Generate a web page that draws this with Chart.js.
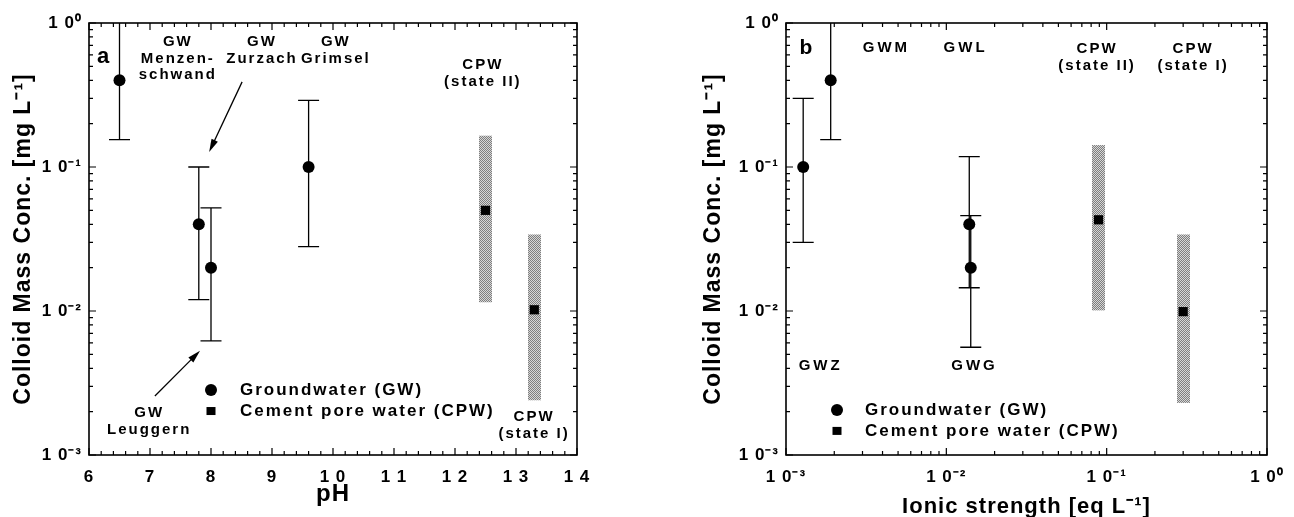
<!DOCTYPE html>
<html>
<head>
<meta charset="utf-8">
<script src="https://cdn.jsdelivr.net/npm/chart.js@4.4.1/dist/chart.umd.min.js"></script>
<style>
  html, body { margin: 0; padding: 0; background: #fff; }
  #wrap { position: relative; width: 1294px; height: 517px; }
  canvas { position: absolute; top: 0; }
</style>
</head>
<body>
<div id="wrap">
  <canvas id="phChart" width="647" height="517" style="left:0"></canvas>
  <canvas id="ionChart" width="647" height="517" style="left:647px"></canvas>
</div>
<script>
// panel a: colloid concentration vs pH
const gwPH = [6.5, 7.8, 8.0, 9.6];
const gwConcA = [0.40, 0.040, 0.020, 0.10];
const gwLowA = [0.155, 0.012, 0.0062, 0.028];
const gwHighA = [1.6, 0.10, 0.052, 0.29];
const cpwPH = [12.5, 13.3];
const cpwConcA = [0.050, 0.0102];
const cpwLowA = [0.0115, 0.0024];
const cpwHighA = [0.165, 0.034];

// panel b: colloid concentration vs ionic strength
const gwIonic = [0.00128, 0.0019, 0.0139, 0.0142];
const gwConcB = [0.10, 0.40, 0.040, 0.020];
const gwLowB = [0.030, 0.155, 0.0145, 0.0056];
const gwHighB = [0.30, 1.6, 0.118, 0.046];
const cpwIonic = [0.089, 0.30];
const cpwConcB = [0.043, 0.0099];
const cpwLowB = [0.0101, 0.0023];
const cpwHighB = [0.142, 0.034];

// labels
const legendLabels = ['Groundwater (GW)', 'Cement pore water (CPW)'];
const pHTickLabels = {6: '6', 7: '7', 8: '8', 9: '9', 10: '1 0', 11: '1 1', 12: '1 2', 13: '1 3', 14: '1 4'};
const decadeLabels = {'-3': '1 0⁻³', '-2': '1 0⁻²', '-1': '1 0⁻¹', '0': '1 0⁰'};
const yTitle = 'Colloid Mass Conc. [mg L⁻¹]';

// text placed in data coordinates of each panel
const notesA = [
  {x: 6.23, y: 0.58, lines: ['a'], size: 22, spacing: 0},
  {x: 7.44, y: 0.738, lines: ['GW', 'Menzen-', 'schwand']},
  {x: 8.82, y: 0.738, lines: ['GW', 'Zurzach']},
  {x: 10.03, y: 0.738, lines: ['GW', 'Grimsel']},
  {x: 12.44, y: 0.511, lines: ['CPW', '(state II)']},
  {x: 13.28, y: 0.00184, lines: ['CPW', '(state I)']},
  {x: 6.97, y: 0.00196, lines: ['GW', 'Leuggern']}
];
const notesB = [
  {x: 0.00133, y: 0.665, lines: ['b'], size: 21, spacing: 0},
  {x: 0.00414, y: 0.67, lines: ['GWM'], spacing: 3},
  {x: 0.0129, y: 0.67, lines: ['GWL'], spacing: 3},
  {x: 0.0859, y: 0.66, lines: ['CPW', '(state II)']},
  {x: 0.341, y: 0.66, lines: ['CPW', '(state I)']},
  {x: 0.00161, y: 0.00415, lines: ['GWZ'], spacing: 3},
  {x: 0.01467, y: 0.00415, lines: ['GWG'], spacing: 3}
];
const arrowsA = [
  [[8.51, 0.39], [7.97, 0.127]],
  [[7.08, 0.00257], [7.82, 0.0053]]
];
const legendA = {x: 8.0, textX: 8.475, rows: [0.00283, 0.00202]};
const legendB = {x: 0.00208, textX: 0.00311, rows: [0.00205, 0.00147]};

const FONT = '"Liberation Sans", Arial, Helvetica, sans-serif';

function logTickValues() {
  const out = [];
  for (let e = -3; e < 0; e++) {
    for (let m = 1; m < 10; m++) out.push(Number((m * Math.pow(10, e)).toPrecision(6)));
  }
  out.push(1);
  return out;
}
function isDecade(v) {
  const e = Math.log10(v);
  return Math.abs(e - Math.round(e)) < 1e-9;
}
function decadeLabel(v) {
  return isDecade(v) ? decadeLabels[String(Math.round(Math.log10(v)) || 0)] : '';
}

function stipple() {
  const c = document.createElement('canvas');
  c.width = 2; c.height = 2;
  const g = c.getContext('2d');
  g.fillStyle = '#d6d6d6'; g.fillRect(0, 0, 2, 2);
  g.fillStyle = '#7e7e7e'; g.fillRect(0, 0, 1, 1); g.fillRect(1, 1, 1, 1);
  return c;
}

function overlayPlugin(p) {
  return {
    id: 'overlay',
    beforeDraw(chart) {
      // wide-set lettering like the scanned figure, for axis texts too
      chart.ctx.letterSpacing = '1px';
    },
    beforeDatasetsDraw(chart) {
      const {ctx, chartArea: a, scales: {x, y}} = chart;
      ctx.save();
      ctx.beginPath();
      ctx.rect(a.left, a.top, a.right - a.left, a.bottom - a.top);
      ctx.clip();
      // stippled ranges for cement pore water
      ctx.fillStyle = ctx.createPattern(stipple(), 'repeat');
      p.cpwX.forEach((v, i) => {
        const px = x.getPixelForValue(v);
        const top = y.getPixelForValue(p.cpwHigh[i]);
        const bot = y.getPixelForValue(p.cpwLow[i]);
        ctx.fillRect(Math.round(px - 6.5), top, 13, bot - top);
      });
      // error bars for groundwater
      ctx.strokeStyle = '#000';
      ctx.lineWidth = 1.3;
      p.gwX.forEach((v, i) => {
        const px = x.getPixelForValue(v);
        const top = y.getPixelForValue(p.gwHigh[i]);
        const bot = y.getPixelForValue(p.gwLow[i]);
        ctx.beginPath();
        ctx.moveTo(px, top); ctx.lineTo(px, bot);
        ctx.moveTo(px - 10.5, top); ctx.lineTo(px + 10.5, top);
        ctx.moveTo(px - 10.5, bot); ctx.lineTo(px + 10.5, bot);
        ctx.stroke();
      });
      ctx.restore();
    },
    afterDraw(chart) {
      const {ctx, chartArea: a, scales: {x, y}} = chart;
      ctx.save();
      // frame
      ctx.strokeStyle = '#000';
      ctx.lineWidth = 1.6;
      ctx.strokeRect(a.left, a.top, a.right - a.left, a.bottom - a.top);
      // inward tick marks on all four sides
      ctx.lineWidth = 1.2;
      ctx.beginPath();
      x.ticks.forEach(t => {
        const px = x.getPixelForValue(t.value);
        const len = p.xMajor(t.value) ? 7 : 4;
        ctx.moveTo(px, a.bottom); ctx.lineTo(px, a.bottom - len);
        ctx.moveTo(px, a.top); ctx.lineTo(px, a.top + len);
      });
      y.ticks.forEach(t => {
        const py = y.getPixelForValue(t.value);
        const len = isDecade(t.value) ? 7 : 4;
        ctx.moveTo(a.left, py); ctx.lineTo(a.left + len, py);
        ctx.moveTo(a.right, py); ctx.lineTo(a.right - len, py);
      });
      ctx.stroke();

      // annotations
      ctx.fillStyle = '#000';
      ctx.textAlign = 'center';
      ctx.textBaseline = 'middle';
      p.notes.forEach(n => {
        const sp = n.spacing ?? 2;
        const px = x.getPixelForValue(n.x) + sp / 2;
        const py = y.getPixelForValue(n.y);
        ctx.font = `bold ${n.size || 15}px ${FONT}`;
        ctx.letterSpacing = sp + 'px';
        n.lines.forEach((s, k) => ctx.fillText(s, px, py + k * 16.5));
      });

      // arrows
      (p.arrows || []).forEach(([from, to]) => {
        const x0 = x.getPixelForValue(from[0]), y0 = y.getPixelForValue(from[1]);
        const x1 = x.getPixelForValue(to[0]), y1 = y.getPixelForValue(to[1]);
        const ang = Math.atan2(y1 - y0, x1 - x0);
        ctx.lineWidth = 1.3;
        ctx.beginPath();
        ctx.moveTo(x0, y0);
        ctx.lineTo(x1 - 8 * Math.cos(ang), y1 - 8 * Math.sin(ang));
        ctx.stroke();
        ctx.beginPath();
        ctx.moveTo(x1, y1);
        ctx.lineTo(x1 - 13 * Math.cos(ang) + 3.5 * Math.sin(ang), y1 - 13 * Math.sin(ang) - 3.5 * Math.cos(ang));
        ctx.lineTo(x1 - 13 * Math.cos(ang) - 3.5 * Math.sin(ang), y1 - 13 * Math.sin(ang) + 3.5 * Math.cos(ang));
        ctx.closePath();
        ctx.fill();
      });

      // legend inside the plot
      const lx = x.getPixelForValue(p.legend.x);
      const tx = x.getPixelForValue(p.legend.textX);
      const r0 = y.getPixelForValue(p.legend.rows[0]);
      const r1 = y.getPixelForValue(p.legend.rows[1]);
      ctx.beginPath();
      ctx.arc(lx, r0, 6, 0, Math.PI * 2);
      ctx.fill();
      ctx.fillRect(lx - 4.5, r1 - 4, 9, 8);
      ctx.font = `bold 17px ${FONT}`;
      ctx.letterSpacing = '2px';
      ctx.textAlign = 'left';
      ctx.fillText(legendLabels[0], tx, r0);
      ctx.fillText(legendLabels[1], tx, r1);
      ctx.restore();
    }
  };
}

function makePanel(id, p) {
  const tickFont = {family: FONT, size: 17, weight: 'bold'};
  const xAxis = p.xLog ? {
    type: 'logarithmic', min: 0.001, max: 1,
    afterBuildTicks: s => { s.ticks = logTickValues().map(v => ({value: v})); },
    ticks: {autoSkip: false, maxRotation: 0, padding: 12, color: '#000', font: tickFont, callback: v => decadeLabel(v)}
  } : {
    type: 'linear', min: 6, max: 14,
    afterBuildTicks: s => {
      const vals = [];
      for (let i = 0; i <= 40; i++) vals.push(Math.round((6 + i * 0.2) * 10) / 10);
      s.ticks = vals.map(v => ({value: v}));
    },
    ticks: {autoSkip: false, maxRotation: 0, padding: 12, color: '#000', font: tickFont,
      callback: v => pHTickLabels[v] || ''}
  };
  Object.assign(xAxis, {
    afterFit: s => { s.height = 62; },
    grid: {display: false, drawTicks: false},
    border: {display: false},
    title: {display: true, text: p.xTitle, color: '#000',
      font: {family: FONT, size: p.xTitleSize, weight: 'bold'},
      padding: {top: 0, bottom: p.xTitlePad}}
  });

  return new Chart(document.getElementById(id), {
    type: 'scatter',
    data: {
      datasets: [
        {label: legendLabels[0], data: p.gwX.map((v, i) => ({x: v, y: p.gwY[i]})),
          pointStyle: 'circle', pointRadius: 6, backgroundColor: '#000', borderColor: '#000', borderWidth: 0},
        {label: legendLabels[1], data: p.cpwX.map((v, i) => ({x: v, y: p.cpwY[i]})),
          pointStyle: 'rect', pointRadius: 6.5, backgroundColor: '#000', borderColor: '#000', borderWidth: 0}
      ]
    },
    options: {
      responsive: false,
      animation: false,
      devicePixelRatio: 1,
      layout: {padding: {left: 0, right: p.padRight, top: 23, bottom: 0}},
      plugins: {legend: {display: false}, tooltip: {enabled: false}},
      scales: {
        x: xAxis,
        y: {
          type: 'logarithmic', min: 0.001, max: 1,
          afterBuildTicks: s => { s.ticks = logTickValues().map(v => ({value: v})); },
          afterFit: s => { s.width = p.yWidth; },
          grid: {display: false, drawTicks: false},
          border: {display: false},
          ticks: {autoSkip: false, padding: 7, color: '#000', font: tickFont, callback: v => decadeLabel(v)},
          title: {display: true, text: yTitle, color: '#000',
            font: {family: FONT, size: 23, weight: 'bold'},
            padding: {top: p.yTitlePad, bottom: 0}}
        }
      }
    },
    plugins: [overlayPlugin(p)]
  });
}

makePanel('phChart', {
  gwX: gwPH, gwY: gwConcA, gwLow: gwLowA, gwHigh: gwHighA,
  cpwX: cpwPH, cpwY: cpwConcA, cpwLow: cpwLowA, cpwHigh: cpwHighA,
  notes: notesA, arrows: arrowsA, legend: legendA,
  xLog: false, xMajor: v => Math.abs(v - Math.round(v)) < 1e-6,
  xTitle: 'pH', xTitleSize: 24, xTitlePad: 8,
  yWidth: 89, yTitlePad: 10, padRight: 70
});

makePanel('ionChart', {
  gwX: gwIonic, gwY: gwConcB, gwLow: gwLowB, gwHigh: gwHighB,
  cpwX: cpwIonic, cpwY: cpwConcB, cpwLow: cpwLowB, cpwHigh: cpwHighB,
  notes: notesB, arrows: [], legend: legendB,
  xLog: true, xMajor: isDecade,
  xTitle: 'Ionic strength [eq L⁻¹]', xTitleSize: 22, xTitlePad: -3,
  yWidth: 139, yTitlePad: 53, padRight: 27
});
</script>
</body>
</html>
